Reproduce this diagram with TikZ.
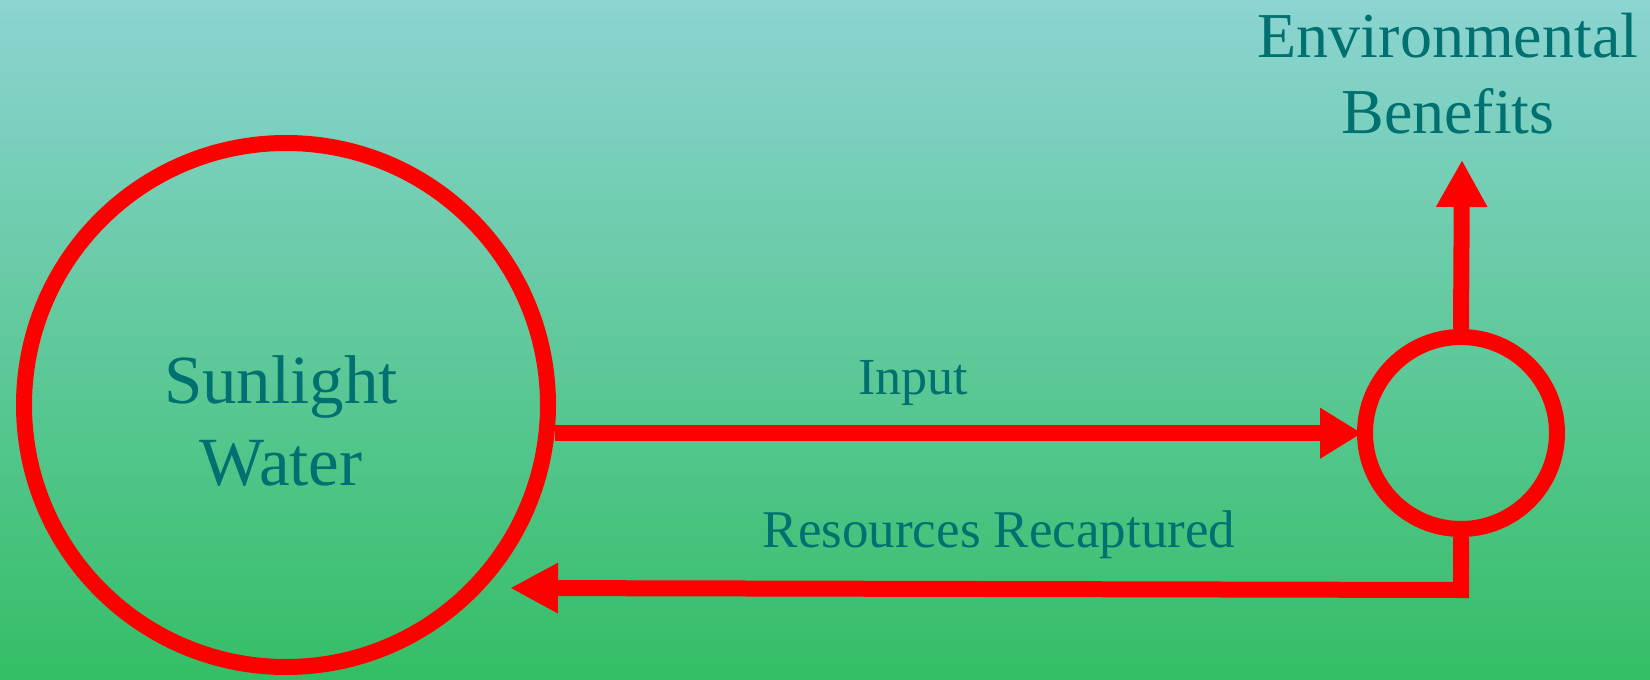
\documentclass[tikz,border=0pt]{standalone}
\usepackage{fontspec}
\setmainfont{Liberation Serif}
\usetikzlibrary{arrows.meta}
\definecolor{bgtop}{RGB}{140,212,210}
\definecolor{bgbot}{RGB}{52,190,102}
\definecolor{lbl}{RGB}{0,112,112}
\definecolor{flowred}{RGB}{255,0,0}
\tikzset{
  ring/.style={circle, draw=flowred, line width=8pt, inner sep=0pt},
  flow/.style={draw=flowred, line width=8pt, line join=miter},
  txt/.style={text=lbl, anchor=base, inner sep=0pt},
}
\begin{document}
\begin{tikzpicture}[x=0.5pt, y=-0.5pt]
  \useasboundingbox (0,0) rectangle (1650,680);
  \shade[top color=bgtop, bottom color=bgbot] (0,0) rectangle (1650,680);

  \node[ring, minimum size=262pt] (src) at (286,405) {};
  \node[ring, minimum size=96pt] (hub) at (1461,433) {};

  \node[txt, font=\fontsize{34.5}{41}\selectfont] (sun) at (281,403) {Sunlight};
  \node[txt, font=\fontsize{34.5}{41}\selectfont] (wat) at (281,485) {Water};
  \node[txt, font=\fontsize{32}{38}\selectfont] (env) at (1448,57) {Environmental};
  \node[txt, font=\fontsize{32}{38}\selectfont] (ben) at (1448,133) {Benefits};
  \node[txt, font=\fontsize{26}{31}\selectfont] (inp) at (913,394) {Input};
  \node[txt, font=\fontsize{26.5}{32}\selectfont] (res) at (999,547) {Resources Recaptured};

  \coordinate (eb) at (1462,160);
  \coordinate (corner) at (1461,590);
  \coordinate (rtip) at (510,588);

  \draw[flow, -{Triangle[length=21pt, width=24pt]}, shorten >=-2.5pt]
    (src.-6.35) -- (src.-6.35 -| hub.west);
  \draw[flow, -{Triangle[length=23.5pt, width=24pt]}]
    (hub.north) -- (eb);
  \draw[flow, -{Triangle[length=24pt, width=23.5pt]}]
    (hub.south) -- (corner) -- (rtip);
\end{tikzpicture}
\end{document}
